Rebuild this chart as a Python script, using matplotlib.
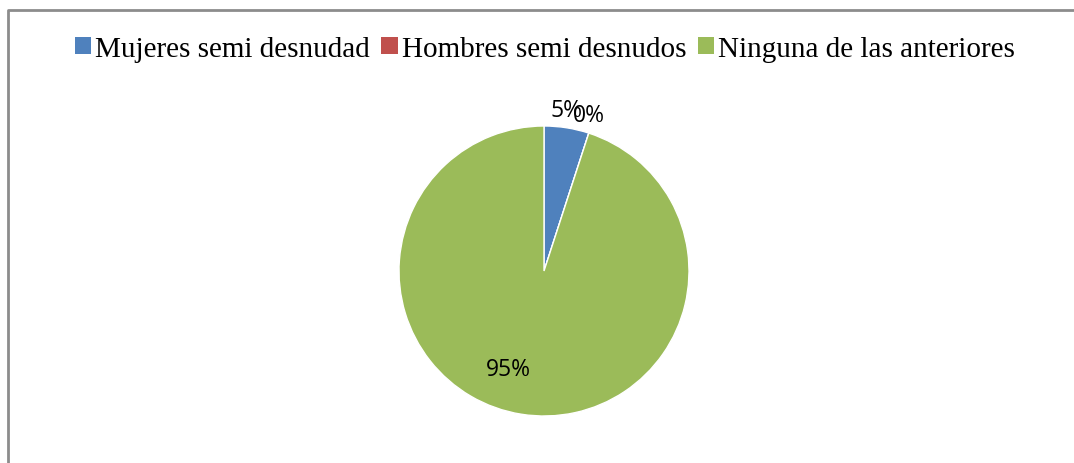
import numpy as np
import matplotlib.pyplot as plt
from matplotlib.patches import Patch

categorias = ['Mujeres semi desnudad', 'Hombres semi desnudos', 'Ninguna de las anteriores']
valores = [5, 0, 95]
colores = ['#4F81BD', '#C0504D', '#9BBB59']

W, H = 1074, 464
fig = plt.figure(figsize=(W / 100, H / 100), dpi=100)
ax = fig.add_axes([0, 0, 1, 1])

# marco del grafico (solo se ven borde izquierdo y superior)
ax.plot([7.5, 7.5, W + 5], [-5, H - 10.5, H - 10.5], color='#8c8c8c', lw=2, solid_capstyle='butt')

cx, cy, R = 544, H - 272, 145
wedges, _ = ax.pie(valores, colors=colores, startangle=90, counterclock=False,
                   center=(cx, cy), radius=R, frame=True,
                   wedgeprops=dict(edgecolor='white', linewidth=1))
ax.set_xlim(0, W)
ax.set_ylim(0, H)
ax.set_aspect('equal')
ax.axis('off')

# etiquetas de porcentaje
dist = [1.12, 1.12, 0.72]
giro = [1, 2, -11]
total = sum(valores)
for w, v, d, g in zip(wedges, valores, dist, giro):
    ang = np.deg2rad((w.theta1 + w.theta2) / 2 + g)
    x = cx + d * R * np.cos(ang)
    y = cy + d * R * np.sin(ang)
    ax.text(x, y, '%d%%' % round(100 * v / total), ha='center', va='center',
            fontsize=16.5, family=['Open Sans', 'DejaVu Sans'], color='black')

handles = [Patch(facecolor=c, edgecolor='none') for c in colores]
fig.legend(handles, categorias, loc='center', bbox_to_anchor=(545 / W, 1 - 50 / H),
           ncol=3, frameon=False, handlelength=0.55, handleheight=0.55,
           handletextpad=0.15, columnspacing=0.4,
           prop={'family': 'Liberation Serif', 'size': 21})

fig.savefig('out.png', dpi=100)
